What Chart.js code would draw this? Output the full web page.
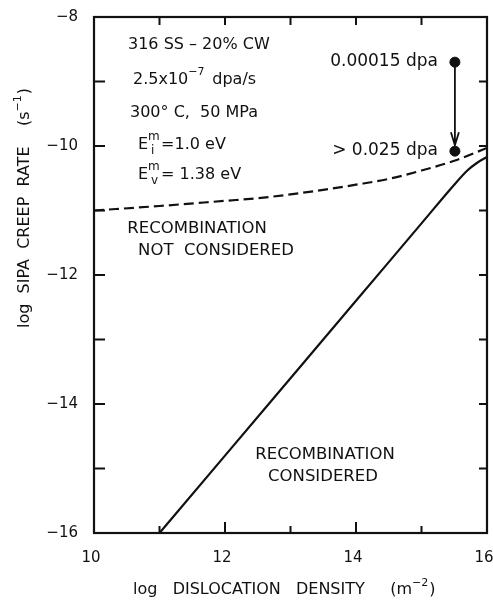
<!DOCTYPE html>
<html>
<head>
<meta charset="utf-8">
<script src="https://cdn.jsdelivr.net/npm/chart.js@4"></script>
<style>
  body { margin: 0; background: #fff; }
  #wrap { width: 493px; height: 600px; }
</style>
</head>
<body>
<div id="wrap"><canvas id="chart-sipa" width="493" height="600"></canvas></div>
<script>
// ----- DATA ----- //
// ---------------- //

// Recombination not considered (dashed)
const density_no_recomb = [10, 11, 12, 12.5, 13, 13.5, 14, 14.5, 15, 15.5, 16];
const rate_no_recomb = [-11.0, -10.93, -10.85, -10.81, -10.75, -10.68, -10.6, -10.51, -10.38, -10.23, -10.03];

// Recombination considered (solid)
const density_recomb = [11, 12, 13, 14, 15, 15.5, 15.7, 15.85, 16];
const rate_recomb = [-16, -14.8, -13.6, -12.4, -11.2, -10.6, -10.38, -10.26, -10.17];

// Dose markers
const dose_density = [15.51, 15.51];
const dose_rate = [-8.70, -10.08];
const dose_labels = ['0.00015 dpa', '> 0.025 dpa'];

// Axes
const x_ticks = [10, 11, 12, 13, 14, 15, 16];
const y_ticks = [-16, -15, -14, -13, -12, -11, -10, -9, -8];

const FONT = '"DejaVu Sans", sans-serif';
const INK = '#111';

function toPoints(xs, ys) {
  return xs.map((x, i) => ({x: x, y: ys[i]}));
}

// ----- PLUGIN : frame, ticks, texts ----- //
// ---------------------------------------- //
const decorations = {
  id: 'decorations',
  afterDraw(chart) {
    const ctx = chart.ctx;
    const a = chart.chartArea;
    const xs = chart.scales.x;
    const ys = chart.scales.y;
    ctx.save();
    ctx.strokeStyle = INK;
    ctx.fillStyle = INK;
    ctx.lineWidth = 2.2;
    ctx.strokeRect(a.left, a.top, a.right - a.left, a.bottom - a.top);

    // ticks inward
    ctx.lineWidth = 2;
    for (const v of x_ticks) {
      if (v === 10 || v === 16) continue;
      const px = xs.getPixelForValue(v);
      const major = v % 2 === 0;
      ctx.beginPath();
      ctx.moveTo(px, a.bottom); ctx.lineTo(px, a.bottom - (major ? 11 : 7));
      ctx.moveTo(px, a.top); ctx.lineTo(px, a.top + 8);
      ctx.stroke();
    }
    for (const v of y_ticks) {
      if (v === -16 || v === -8) continue;
      const py = ys.getPixelForValue(v);
      ctx.beginPath();
      ctx.moveTo(a.left, py); ctx.lineTo(a.left + 11, py);
      ctx.moveTo(a.right, py); ctx.lineTo(a.right - 8, py);
      ctx.stroke();
    }

    // arrow between dose markers
    const ax = xs.getPixelForValue(dose_density[0]);
    const ay1 = ys.getPixelForValue(dose_rate[0]);
    const ay2 = ys.getPixelForValue(dose_rate[1]) - 6;
    ctx.lineWidth = 1.8;
    ctx.beginPath();
    ctx.moveTo(ax, ay1); ctx.lineTo(ax, ay2);
    ctx.moveTo(ax - 4, ay2 - 13); ctx.lineTo(ax, ay2); ctx.lineTo(ax + 4, ay2 - 13);
    ctx.stroke();

    // dose labels
    ctx.font = '17px ' + FONT;
    ctx.textAlign = 'right';
    ctx.textBaseline = 'middle';
    for (let i = 0; i < dose_labels.length; i++) {
      ctx.fillText(dose_labels[i], ax - 17, ys.getPixelForValue(dose_rate[i]) - 1);
    }

    // info block
    ctx.textAlign = 'left';
    ctx.font = '16px ' + FONT;
    ctx.fillText('316 SS \u2013 20% CW', 128, 45);
    ctx.fillText('2.5x10', 133, 80);
    let w = ctx.measureText('2.5x10').width;
    ctx.font = '11px ' + FONT;
    ctx.fillText('\u22127', 133 + w, 72);
    ctx.font = '16px ' + FONT;
    ctx.fillText('dpa/s', 133 + w + 24, 80);
    ctx.fillText('300\u00b0 C,  50 MPa', 130, 113);
    drawE(ctx, 138, 145, 'i', '=1.0 eV');
    drawE(ctx, 138, 175, 'v', '= 1.38 eV');

    // curve labels
    ctx.font = '16.5px ' + FONT;
    ctx.textAlign = 'center';
    ctx.fillText('RECOMBINATION', 197, 229);
    ctx.fillText('NOT  CONSIDERED', 216, 251);
    ctx.fillText('RECOMBINATION', 325, 455);
    ctx.fillText('CONSIDERED', 323, 477);

    // axis titles
    ctx.font = '16px ' + FONT;
    ctx.textAlign = 'left';
    let tx = 133;
    const tyx = 590;
    const xtitle = 'log   DISLOCATION   DENSITY     (m';
    ctx.fillText(xtitle, tx, tyx);
    tx += ctx.measureText(xtitle).width;
    ctx.font = '11px ' + FONT;
    ctx.fillText('\u22122', tx, tyx - 7);
    tx += ctx.measureText('\u22122').width;
    ctx.font = '16px ' + FONT;
    ctx.fillText(')', tx + 1, tyx);

    ctx.translate(25, 328);
    ctx.rotate(-Math.PI / 2);
    let ty = 0;
    const ytitle = 'log  SIPA  CREEP  RATE    (s';
    ctx.fillText(ytitle, ty, 0);
    ty += ctx.measureText(ytitle).width;
    ctx.font = '11px ' + FONT;
    ctx.fillText('\u22121', ty, -7);
    ty += ctx.measureText('\u22121').width;
    ctx.font = '16px ' + FONT;
    ctx.fillText(')', ty + 1, 0);
    ctx.restore();
  }
};

// E with stacked super/subscript
function drawE(ctx, x, y, sub, rest) {
  ctx.font = '16px ' + FONT;
  ctx.textAlign = 'left';
  ctx.fillText('E', x, y);
  const w = ctx.measureText('E').width;
  ctx.font = '12px ' + FONT;
  ctx.fillText('m', x + w, y - 8);
  ctx.fillText(sub, x + w + 3, y + 6);
  ctx.font = '16px ' + FONT;
  ctx.fillText(rest, x + w + 13, y);
}

// ----- CREATE CHART ----- //
// ------------------------ //
new Chart(document.getElementById('chart-sipa').getContext('2d'), {
  type: 'scatter',
  data: {
    datasets: [
      {
        label: 'Recombination not considered',
        data: toPoints(density_no_recomb, rate_no_recomb),
        showLine: true,
        borderColor: INK,
        borderWidth: 2.2,
        borderDash: [10, 5],
        pointRadius: 0,
        cubicInterpolationMode: 'monotone',
      },
      {
        label: 'Recombination considered',
        data: toPoints(density_recomb, rate_recomb),
        showLine: true,
        borderColor: INK,
        borderWidth: 2.2,
        pointRadius: 0,
        cubicInterpolationMode: 'monotone',
      },
      {
        label: 'Dose',
        data: toPoints(dose_density, dose_rate),
        showLine: false,
        pointRadius: 5,
        backgroundColor: INK,
        borderColor: INK,
      }
    ]
  },
  options: {
    responsive: false,
    animation: false,
    layout: { padding: { top: 17, right: 6, left: 0, bottom: 0 } },
    plugins: { legend: { display: false }, tooltip: { enabled: false } },
    scales: {
      x: {
        type: 'linear', min: 10, max: 16,
        grid: { display: false, drawTicks: false },
        border: { display: false },
        afterFit: (scale) => { scale.height = 67; scale.paddingLeft = 0; scale.paddingRight = 0; },
        afterBuildTicks: (scale) => { scale.ticks = x_ticks.map(v => ({value: v})); },
        ticks: {
          padding: 16, color: INK, labelOffset: -3,
          font: { family: FONT, size: 15 },
          callback: (v) => (v % 2 === 0 ? String(v) : ''),
        }
      },
      y: {
        type: 'linear', min: -16, max: -8,
        grid: { display: false, drawTicks: false },
        border: { display: false },
        afterFit: (scale) => { scale.width = 94; scale.paddingTop = 0; scale.paddingBottom = 0; },
        afterBuildTicks: (scale) => { scale.ticks = y_ticks.map(v => ({value: v})); },
        ticks: {
          padding: 16, color: INK,
          font: { family: FONT, size: 15 },
          callback: (v) => (v % 2 === 0 ? '\u2212' + Math.abs(v) : ''),
        }
      }
    }
  },
  plugins: [decorations]
});
</script>
</body>
</html>
